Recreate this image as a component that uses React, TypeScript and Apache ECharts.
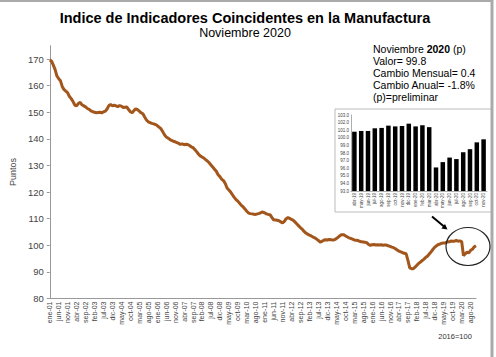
import React, { useEffect, useRef } from "react";
import * as echarts from "echarts";

const monthAbbr = ["ene", "feb", "mar", "abr", "may", "jun", "jul", "ago", "sep", "oct", "nov", "dic"];
const startYear = 2001;

const indexValues = [
  // 2001
  169.6, 169.2, 167.7, 166.0, 163.6, 162.6, 161.8, 159.6, 158.5, 157.9, 157.3, 155.9,
  // 2002
  155.1, 154.0, 152.7, 152.4, 153.3, 153.7, 152.8, 152.4, 152.0, 151.4, 151.1, 150.5,
  // 2003
  150.2, 150.0, 149.8, 149.9, 150.0, 149.8, 150.1, 150.4, 151.2, 152.5, 152.9, 152.4,
  // 2004
  152.6, 152.4, 152.1, 152.5, 152.3, 151.8, 151.9, 152.0, 151.0, 150.2, 149.8, 150.6,
  // 2005
  151.3, 151.0, 150.4, 149.8, 149.4, 148.2, 147.1, 146.4, 146.1, 145.8, 145.6, 145.4,
  // 2006
  145.0, 144.4, 143.9, 142.8, 141.6, 140.7, 140.3, 139.8, 139.4, 139.1, 138.9, 138.6,
  // 2007
  138.3, 137.9, 138.1, 137.8, 138.0, 137.9, 137.5, 137.0, 136.7, 136.0, 135.2, 134.3,
  // 2008
  133.6, 133.2, 132.8, 132.2, 131.7, 131.0, 130.2, 129.4, 128.6, 127.8, 126.5, 125.8,
  // 2009
  124.8, 124.3, 123.2, 121.5, 120.8, 120.0, 119.0, 118.0, 117.2, 116.6, 115.8, 115.0,
  // 2010
  114.4, 113.6, 112.8, 112.1, 111.9, 111.8, 111.7, 111.6, 111.8, 112.0, 112.3, 112.5,
  // 2011
  112.2, 111.8, 111.6, 111.5, 110.5, 109.6, 109.5, 109.4, 109.2, 108.8, 108.4, 109.0,
  // 2012
  110.0, 110.4, 110.1, 109.7, 109.4, 108.7, 108.0, 107.3, 106.6, 106.0, 105.2, 104.6,
  // 2013
  104.2, 103.8, 103.5, 103.1, 102.8, 102.3, 101.8, 101.2, 101.5, 101.9, 102.1, 102.0,
  // 2014
  102.2, 102.1, 102.0, 102.1, 102.5, 103.0, 103.6, 104.0, 104.0, 103.6, 103.2, 102.8,
  // 2015
  102.6, 102.3, 102.0, 101.9, 101.8, 101.5, 101.3, 101.2, 101.1, 101.0, 100.3, 100.0,
  // 2016
  100.2, 100.3, 100.1, 100.2, 100.1, 100.2, 100.0, 100.1, 100.1, 99.8, 99.6, 99.3,
  // 2017
  99.1, 98.7, 98.2, 97.8, 97.5, 97.2, 97.0, 96.8, 94.3, 91.5, 91.2, 91.2,
  // 2018
  91.8, 92.5, 93.2, 93.7, 94.3, 94.8, 95.5, 96.0, 96.8, 97.6, 98.5, 99.3,
  // 2019
  99.8, 100.3, 100.5, 100.8, 100.9, 100.9, 101.25, 101.3, 101.6, 101.5, 101.55, 101.86,
  // 2020
  101.5, 101.65, 101.4, 96.1, 96.8, 97.4, 97.2, 98.1, 98.5, 99.4, 99.8,
];

const monthLabels: string[] = indexValues.map((_, i) => {
  const y = startYear + Math.floor(i / 12);
  return monthAbbr[i % 12] + "-" + String(y).slice(2);
});

const insetStart = 219; // abr-19
const insetLabels = monthLabels.slice(insetStart);
const insetValues = indexValues.slice(insetStart);

const mainYTicks = [80, 90, 100, 110, 120, 130, 140, 150, 160, 170];

const FONT = "Liberation Sans, Arial, sans-serif";

export default function App() {
  const ref = useRef<HTMLDivElement>(null);
  useEffect(() => {
    if (!ref.current) return;
    const chart = echarts.init(ref.current, null, { renderer: "svg" });
    const option: any = {
      animation: false,
      backgroundColor: "#ffffff",
      textStyle: { fontFamily: FONT },
      grid: [
        { left: 42, top: 45.7, width: 434, height: 252.8, containLabel: false },
        { left: 351, top: 115, width: 136, height: 76, containLabel: false },
      ],
      xAxis: [
        {
          type: "category",
          gridIndex: 0,
          data: monthLabels,
          boundaryGap: false,
          axisLine: { lineStyle: { color: "#999", width: 1 } },
          axisTick: { show: false },
          axisLabel: {
            interval: 4,
            rotate: 90,
            fontSize: 7,
            color: "#444",
            fontFamily: FONT,
            margin: 3,
          },
        },
        {
          type: "category",
          gridIndex: 1,
          data: insetLabels,
          axisLine: { lineStyle: { color: "#999", width: 0.8 } },
          axisTick: { show: false },
          axisLabel: {
            interval: 0,
            rotate: 90,
            fontSize: 4.5,
            color: "#444",
            fontFamily: FONT,
            margin: 2,
          },
        },
      ],
      yAxis: [
        {
          type: "value",
          gridIndex: 0,
          min: 80,
          max: 175,
          name: "Puntos",
          nameLocation: "middle",
          nameGap: 27,
          nameRotate: 90,
          nameTextStyle: { fontSize: 9, color: "#444", fontFamily: FONT },
          axisLine: { show: true, lineStyle: { color: "#999", width: 1 } },
          axisTick: { show: true, length: 3, customValues: mainYTicks, lineStyle: { color: "#999" } },
          axisLabel: { customValues: mainYTicks, fontSize: 9.5, color: "#444", margin: 6, fontFamily: FONT },
          splitLine: { show: false },
        },
        {
          type: "value",
          gridIndex: 1,
          min: 93,
          max: 103,
          interval: 1,
          axisLine: { show: true, lineStyle: { color: "#999", width: 0.8 } },
          axisTick: { show: false },
          axisLabel: {
            fontSize: 4.5,
            color: "#444",
            margin: 2,
            fontFamily: FONT,
            formatter: (v: number) => v.toFixed(1),
          },
          splitLine: { show: false },
        },
      ],
      series: [
        {
          type: "line",
          xAxisIndex: 0,
          yAxisIndex: 0,
          data: indexValues,
          showSymbol: false,
          lineStyle: { color: "#A3561C", width: 3 },
          z: 3,
        },
        {
          type: "bar",
          xAxisIndex: 1,
          yAxisIndex: 1,
          data: insetValues,
          barWidth: 4.5,
          itemStyle: { color: "#000" },
        },
      ],
      graphic: [
        {
          type: "text",
          x: 245,
          y: 10,
          style: {
            text: "Indice de Indicadores Coincidentes en la Manufactura",
            fontSize: 14.5,
            fontWeight: "bold",
            fontFamily: FONT,
            fill: "#000",
            align: "center",
          },
        },
        {
          type: "text",
          x: 245,
          y: 26,
          style: {
            text: "Noviembre 2020",
            fontSize: 12.5,
            fontFamily: FONT,
            fill: "#000",
            align: "center",
          },
        },
        {
          type: "text",
          x: 373,
          y: 43,
          style: {
            text: "{n|Noviembre }{b|2020}{n| (p)}\nValor= 99.8\nCambio Mensual= 0.4\nCambio Anual= -1.8%\n(p)=preliminar",
            fontSize: 10.5,
            lineHeight: 12,
            fontFamily: FONT,
            fill: "#000",
            rich: {
              n: { fontSize: 10.5, fontFamily: FONT, fill: "#000", lineHeight: 12 },
              b: { fontSize: 10.5, fontFamily: FONT, fill: "#000", fontWeight: "bold", lineHeight: 12 },
            },
          },
        },
        {
          type: "text",
          x: 455,
          y: 332,
          style: { text: "2016=100", fontSize: 7.5, fontFamily: FONT, fill: "#333", align: "center" },
        },
        {
          type: "rect",
          shape: { x: 335, y: 109, width: 157, height: 103 },
          style: { fill: "none", stroke: "#bbb", lineWidth: 1 },
          z: 0,
        },
        {
          type: "line",
          shape: { x1: 432, y1: 216.5, x2: 444, y2: 226.5 },
          style: { stroke: "#000", lineWidth: 2 },
        },
        {
          type: "polygon",
          shape: { points: [[447.5, 229.5], [441.4, 228.4], [445.0, 224.0]] },
          style: { fill: "#000" },
        },
        {
          type: "ellipse",
          shape: { cx: 468, cy: 246.5, rx: 22, ry: 19 },
          style: { fill: "none", stroke: "#222", lineWidth: 1.2 },
          z: 10,
        },
        {
          type: "line",
          shape: { x1: 0, y1: 1, x2: 493, y2: 1 },
          style: { stroke: "#aaa", lineWidth: 2 },
        },
        {
          type: "line",
          shape: { x1: 492, y1: 0, x2: 492, y2: 357 },
          style: { stroke: "#aaa", lineWidth: 3 },
        },
      ],
    };
    chart.setOption(option);
    return () => chart.dispose();
  }, []);
  return <div ref={ref} style={{ width: 496, height: 357, position: "absolute", left: 0, top: 0 }} />;
}
